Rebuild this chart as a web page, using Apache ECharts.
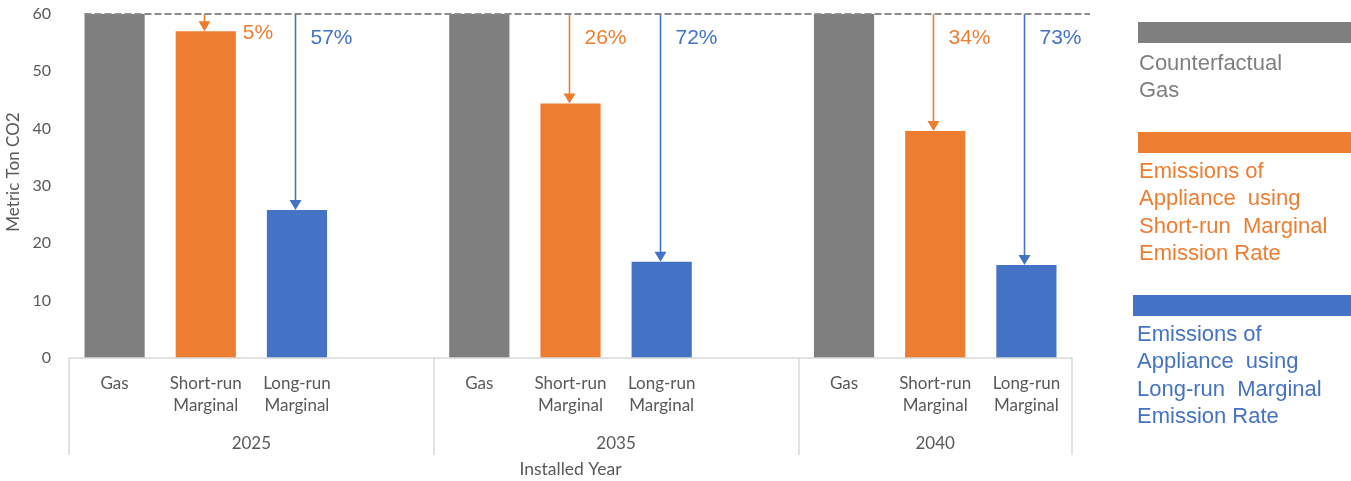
<!DOCTYPE html>
<html>
<head>
<meta charset="utf-8">
<script src="https://cdn.jsdelivr.net/npm/echarts@6/dist/echarts.min.js"></script>
<style>
  html, body { margin: 0; padding: 0; background: #ffffff; }
  #chart { width: 1351px; height: 481px; }
</style>
</head>
<body>
<div id="chart"></div>
<script>
// Installed years and the appliance cases shown for each year
const years = ['2025', '2035', '2040'];
const caseLabels = ['Gas', 'Short-run\nMarginal', 'Long-run\nMarginal'];

// Lifetime emissions, metric ton CO2
const gasTons = [60, 60, 60];
const shortRunTons = [57.0, 44.4, 39.6];
const longRunTons = [25.8, 16.8, 16.2];

// Y axis ticks
const yMin = 0, yMax = 60, yStep = 10;

// Legend entries
const legendLabels = [
  'Counterfactual\nGas',
  'Emissions of\nAppliance  using\nShort-run  Marginal\nEmission Rate',
  'Emissions of\nAppliance  using\nLong-run  Marginal\nEmission Rate'
];

const GRAY = '#7f7f7f', ORANGE = '#ed7d31', BLUE = '#4472c4';
const AXIS_TEXT = '#595959', RULE = '#d9d9d9';
const BAR_FRACTION = 0.66;

// Category slots: three cases per year, one empty slot between years
const categories = [];
const gasData = [], shortData = [], longData = [];
const groupSpans = [];
years.forEach((y, i) => {
  const start = categories.length;
  categories.push(...caseLabels);
  gasData.push(gasTons[i], null, null);
  shortData.push(null, shortRunTons[i], null);
  longData.push(null, null, longRunTons[i]);
  if (i < years.length - 1) {
    categories.push('');
    gasData.push(null); shortData.push(null); longData.push(null);
  }
  groupSpans.push([start, categories.length]);
});
const slotCount = categories.length;
const groupBounds = [0, ...groupSpans.map(s => s[1])];
const groupCenters = groupSpans.map(s => (s[0] + s[1]) / 2);

// Reduction arrows: [slot index, gas value, case value]
const arrowData = [];
years.forEach((y, i) => {
  const base = groupSpans[i][0];
  arrowData.push({ value: [base + 1, gasTons[i], shortRunTons[i]], itemStyle: { color: ORANGE } });
  arrowData.push({ value: [base + 2, gasTons[i], longRunTons[i]], itemStyle: { color: BLUE } });
});

function renderArrow(params, api) {
  const idx = api.value(0), top = api.value(1), end = api.value(2);
  const color = api.visual('color');
  const p0 = api.coord([idx, top]);
  const p1 = api.coord([idx, end]);
  const slotW = api.size([1, 0])[0];
  const x = Math.round(p0[0]) - 1.5;
  const headH = 10, headW = 6;
  const pct = Math.round((1 - end / top) * 100) + '%';
  // percentage sits beside the arrow, or beside the bar when the bar reaches that high
  let tx = x + 15, ty = p0[1] + 24;
  if (p1[1] < p0[1] + 36) {
    tx = p0[0] + slotW * BAR_FRACTION / 2 + 7;
    ty = p0[1] + 19;
  }
  return {
    type: 'group',
    children: [
      { type: 'line', shape: { x1: x, y1: p0[1], x2: x, y2: p1[1] - headH + 1 },
        style: { stroke: color, lineWidth: 1.6 } },
      { type: 'polygon', shape: { points: [[x - headW, p1[1] - headH], [x + headW, p1[1] - headH], [x, p1[1]]] },
        style: { fill: color } },
      { type: 'text', x: tx, y: ty,
        style: { text: pct, fill: color, font: '21px "Liberation Sans", Arial, sans-serif',
                 align: 'left', verticalAlign: 'middle' } }
    ]
  };
}

const chart = echarts.init(document.getElementById('chart'), null, { renderer: 'canvas' });

const GRID = { left: 69, right: 279, top: 14, bottom: 123, containLabel: false, outerBoundsMode: 'none' };
const AXIS_FONT = 'Lato, sans-serif';

chart.setOption({
  animation: false,
  backgroundColor: '#ffffff',
  grid: GRID,
  xAxis: [
    {
      type: 'category',
      data: categories,
      axisLine: { show: true, lineStyle: { color: RULE, width: 1.5 } },
      axisTick: { show: false },
      axisLabel: {
        interval: 0, color: AXIS_TEXT, fontFamily: AXIS_FONT, fontSize: 17,
        lineHeight: 22, margin: 15
      },
      z: 3
    },
    {
      type: 'value',
      position: 'bottom',
      min: 0, max: slotCount,
      axisLine: { show: false },
      splitLine: { show: false },
      axisTick: {
        show: true, inside: false, length: 97, customValues: groupBounds,
        lineStyle: { color: RULE, width: 1.5 }
      },
      axisLabel: {
        show: true, customValues: groupCenters, margin: 77,
        color: AXIS_TEXT, fontFamily: AXIS_FONT, fontSize: 17,
        formatter: v => years[groupCenters.indexOf(v)] || ''
      },
      name: 'Installed Year',
      nameLocation: 'middle',
      nameGap: 102,
      nameTextStyle: { color: AXIS_TEXT, fontFamily: AXIS_FONT, fontSize: 17.5 }
    }
  ],
  yAxis: {
    type: 'value',
    min: yMin, max: yMax, interval: yStep,
    axisLine: { show: false },
    axisTick: { show: false },
    splitLine: { show: false },
    axisLabel: { color: AXIS_TEXT, fontFamily: AXIS_FONT, fontSize: 16, margin: 18 },
    name: 'Metric Ton CO2',
    nameLocation: 'middle',
    nameGap: 30,
    nameRotate: 90,
    nameTextStyle: { color: AXIS_TEXT, fontFamily: AXIS_FONT, fontSize: 17, padding: [0, 0, 0, 28] }
  },
  series: [
    { name: 'Counterfactual Gas', type: 'bar', data: gasData, barWidth: BAR_FRACTION * 100 + '%', barGap: '-100%',
      itemStyle: { color: GRAY }, z: 2 },
    { name: 'Short-run Marginal', type: 'bar', data: shortData, barWidth: BAR_FRACTION * 100 + '%', barGap: '-100%',
      itemStyle: { color: ORANGE }, z: 2 },
    { name: 'Long-run Marginal', type: 'bar', data: longData, barWidth: BAR_FRACTION * 100 + '%', barGap: '-100%',
      itemStyle: { color: BLUE }, z: 2 },
    { name: 'Reduction', type: 'custom', renderItem: renderArrow, data: arrowData, z: 5,
      encode: { x: 0, y: [1, 2] } }
  ]
});

// Dashed counterfactual reference and the side legend
function drawOverlays() {
  const slotW = chart.convertToPixel({ xAxisIndex: 1 }, 1) - chart.convertToPixel({ xAxisIndex: 1 }, 0);
  const firstGasX = chart.convertToPixel({ xAxisIndex: 0 }, 0);
  const refY = chart.convertToPixel({ yAxisIndex: 0 }, gasTons[0]);
  const plotRight = chart.convertToPixel({ xAxisIndex: 1 }, slotCount);
  const x0 = firstGasX - slotW * BAR_FRACTION / 2;
  const x1 = plotRight + 18;

  const legendFont = '22px "Liberation Sans", Arial, sans-serif';
  const legendBlocks = [
    { color: GRAY, textColor: '#7f7f7f', rectX: 1138, rectY: 22, textY: 50 },
    { color: ORANGE, textColor: ORANGE, rectX: 1138, rectY: 132, textY: 158 },
    { color: BLUE, textColor: BLUE, rectX: 1133, rectY: 295, textY: 321 }
  ];
  const graphics = [
    { type: 'line', shape: { x1: x0, y1: refY, x2: x1, y2: refY }, z: 10,
      style: { stroke: '#8c8c8c', lineWidth: 2, lineDash: [7, 3] } }
  ];
  legendBlocks.forEach((b, i) => {
    graphics.push({ type: 'rect', shape: { x: b.rectX, y: b.rectY, width: 1351 - b.rectX, height: 21 },
                    style: { fill: b.color } });
    graphics.push({ type: 'text', x: b.rectX + (i === 2 ? 4 : 1), y: b.textY,
                    style: { text: legendLabels[i], fill: b.textColor, font: legendFont,
                             lineHeight: 27.5, align: 'left', verticalAlign: 'top' } });
  });
  chart.setOption({ graphic: graphics });
}
drawOverlays();
</script>
</body>
</html>
